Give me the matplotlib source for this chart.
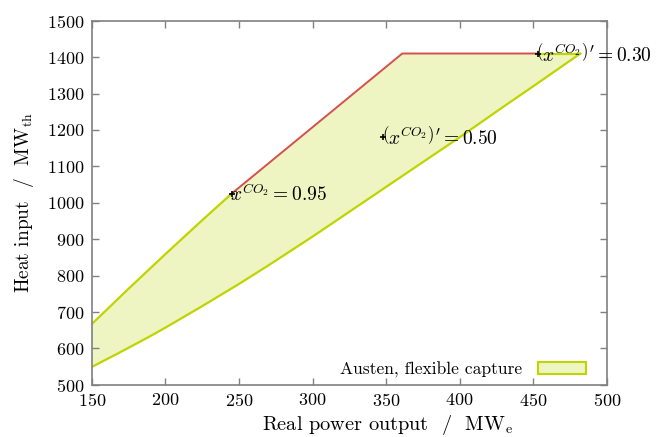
import numpy as np
import matplotlib
matplotlib.use('Agg')
import matplotlib.pyplot as plt
from matplotlib.patches import Patch

plt.rcParams['font.family'] = ['cmr10', 'DejaVu Serif']
plt.rcParams['mathtext.fontset'] = 'cm'
plt.rcParams['axes.formatter.use_mathtext'] = True

# Dolna granica obszaru (minimalne zużycie ciepła)
lower_x = [150, 170, 189, 200, 225, 250, 270, 300, 352, 400, 433, 450, 482]
lower_y = [549, 591, 632, 657, 716, 777, 828, 907, 1049, 1180, 1273, 1320, 1410]

# Górna granica: część zielona (lewa)
upper_x = [150, 175, 200, 225, 245]
upper_y = [667, 764, 859, 952, 1025]

# Czerwona linia (ograniczenie)
red_x = [245, 361, 453]
red_y = [1025, 1410, 1410]

# Punkty z opisami
pts_x = [245, 348, 453]
pts_y = [1025, 1182, 1410]
pts_lbl = [r'$x^{CO_2} = 0.95$',
           r'$\left(x^{CO_2}\right)^\prime = 0.50$',
           r'$\left(x^{CO_2}\right)^\prime = 0.30$']

fill_c = '#eef5c2'
line_c = '#bfd400'
red_c = '#d65050'

fig = plt.figure(figsize=(6.56, 4.37), dpi=100)
ax = fig.add_axes([0.140, 0.1195, 0.785, 0.833])

# wypełnienie jako wielokąt
poly_x = lower_x + [lower_x[-1]] + red_x[::-1] + upper_x[::-1][1:]
poly_y = lower_y + [red_y[-1]] + red_y[::-1] + upper_y[::-1][1:]
ax.fill(poly_x, poly_y, color=fill_c, zorder=1)
ax.plot(lower_x, lower_y, color=line_c, lw=1.6, zorder=2)
ax.plot(upper_x, upper_y, color=line_c, lw=1.6, zorder=2)
ax.plot([red_x[-1], lower_x[-1]], [red_y[-1], lower_y[-1]], color=line_c, lw=1.6, zorder=2)
ax.plot(red_x, red_y, color=red_c, lw=1.4, zorder=3)

ax.plot(pts_x, pts_y, '+', color='black', ms=5, mew=1.2, zorder=4)
for x, y, s in zip(pts_x, pts_y, pts_lbl):
    ax.text(x - 1, y, s, fontsize=14, va='center', ha='left', zorder=5, clip_on=False)

ax.set_xlim(150, 500)
ax.set_ylim(500, 1500)
ax.set_xticks(range(150, 501, 50))
ax.set_yticks(range(500, 1501, 100))
ax.tick_params(direction='in', top=True, right=True, length=5, width=1, color='#808080',
               labelsize=13, pad=5)
for sp in ax.spines.values():
    sp.set_color('#808080')
    sp.set_linewidth(1.2)

ax.set_xlabel(r'Real power output  /  MW$_{\mathrm{e}}$', fontsize=14.6, labelpad=3)
ax.set_ylabel(r'Heat input  /  MW$_{\mathrm{th}}$', fontsize=14, labelpad=8)
ax.xaxis.label.set_x(0.575)

handle = Patch(facecolor=fill_c, edgecolor=line_c, lw=1.5)
ax.legend([handle], ['Austen, flexible capture'], loc='lower right', frameon=False,
          markerfirst=False, fontsize=12.6, handlelength=2.75, handleheight=0.7,
          borderaxespad=0, bbox_to_anchor=(0.973, 0.0), handletextpad=0.9)

fig.savefig('out.png', dpi=100)
